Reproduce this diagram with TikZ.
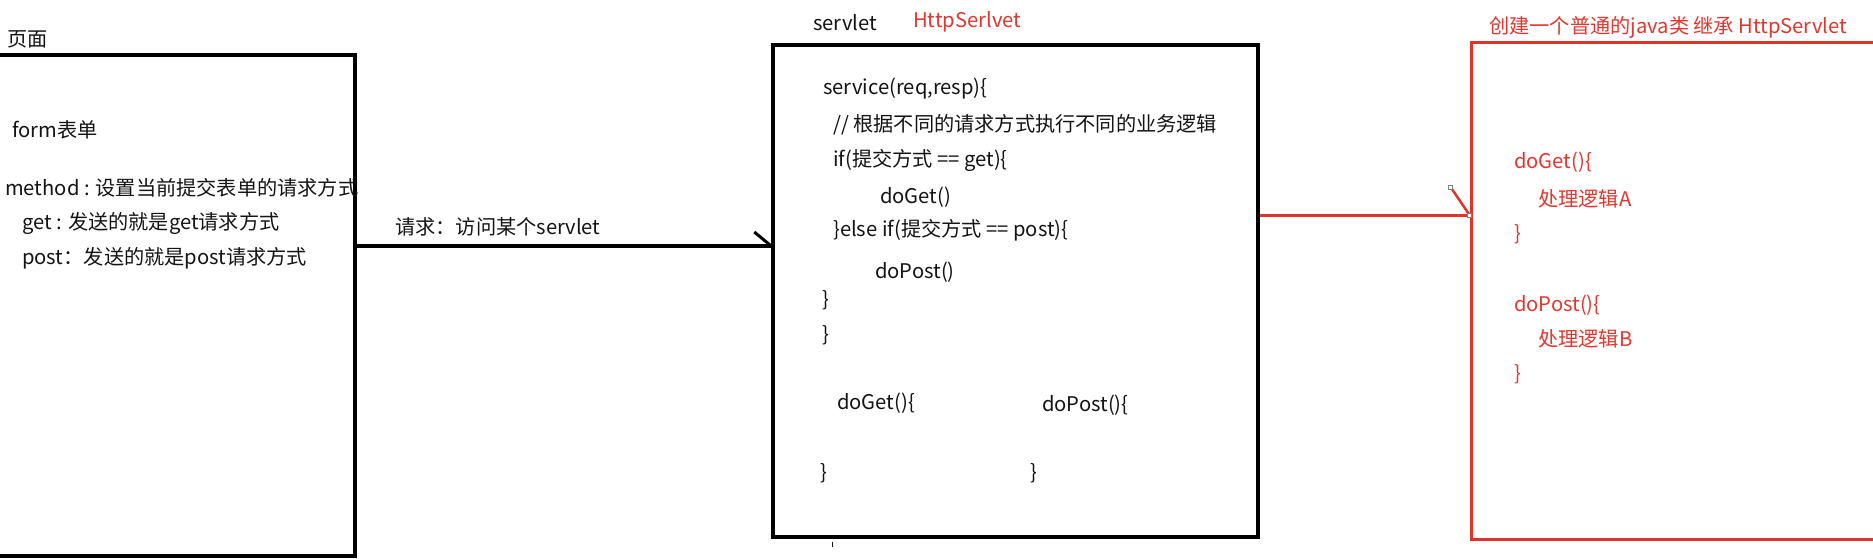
\documentclass[tikz,border=0pt]{standalone}
\usepackage{fontspec}
\setmainfont{Noto Sans CJK SC}
\definecolor{redline}{RGB}{222,52,44}
\definecolor{redtext}{RGB}{224,56,48}
\definecolor{ink}{RGB}{20,20,20}
\begin{document}
\begin{tikzpicture}[x=1pt,y=-1pt,
  txt/.style={anchor=west,inner sep=0pt,font=\fontsize{20.2}{24}\selectfont,text=ink},
  rtxt/.style={txt,text=redtext},
  blackbox/.style={draw=black,line width=3.5pt,inner sep=0pt},
  redbox/.style={draw=redline,line width=3pt,inner sep=0pt},
  handle/.style={draw=gray,fill=white,line width=0.8pt,minimum size=4pt,inner sep=0pt}]
\clip (0,0) rectangle (1873,559);
\fill[white] (0,0) rectangle (1873,559);

% boxes
\node[blackbox,minimum width=395pt,minimum height=501pt] (page) at (157.5,305.5) {};
\node[blackbox,minimum width=485pt,minimum height=492pt] (servletbox) at (1015.5,291) {};
\node[redbox,minimum width=479pt,minimum height=496pt] (impl) at (1710.5,291) {};

% left box texts
\node[txt] (tpage) at (7,39) {页面};
\node[txt] (tform) at (12,130) {form表单};
\node[txt] (tmethod) at (5,188) {method : 设置当前提交表单的请求方式};
\node[txt] (tget) at (22,223) {get : 发送的就是get请求方式};
\node[txt] (tpost) at (22,258) {post：发送的就是post请求方式};

% request label
\node[txt] (treq) at (395,227) {请求：访问某个servlet};

% middle box texts
\node[txt] (tservlet) at (813,23) {servlet};
\node[rtxt] (thttp) at (913,22) {HttpSerlvet};
\node[txt] (l1) at (823,89) {service(req,resp)\{};
\node[txt] (l2) at (833,125) {// 根据不同的请求方式执行不同的业务逻辑};
\node[txt] (l3) at (833,160) {if(提交方式 == get)\{};
\node[txt] (l4) at (880,197) {doGet()};
\node[txt] (l5) at (833,230) {\}else if(提交方式 == post)\{};
\node[txt] (l6) at (875,272) {doPost()};
\node[txt] (l7) at (822,300) {\}};
\node[txt] (l8) at (822,335) {\}};
\node[txt] (m1) at (837,403) {doGet()\{};
\node[txt] (m2) at (1042,405) {doPost()\{};
\node[txt] (m3) at (820,473) {\}};
\node[txt] (m4) at (1030,473) {\}};
\draw[ink,line width=1.2pt] (servletbox.south -| m3.east) ++(5,3) -- ++(0,5);

% red box texts
\node[rtxt] (ttitle) at (1489,27) {创建一个普通的java类 继承 HttpServlet};
\node[rtxt] (r1) at (1514,162) {doGet()\{};
\node[rtxt] (r2) at (1538,199) {处理逻辑A};
\node[rtxt] (r3) at (1514,234) {\}};
\node[rtxt] (r4) at (1514,305) {doPost()\{};
\node[rtxt] (r5) at (1538,339) {处理逻辑B};
\node[rtxt] (r6) at (1514,374) {\}};

% request connector
\coordinate (reqy) at (0,246);
\draw[black,line width=3.5pt] (page.east |- reqy) -- (servletbox.west |- reqy) coordinate (reqend);
\draw[black,line width=3pt] (reqend) -- ++(-17,-14);

% inheritance connector
\coordinate (inhy) at (0,215);
\draw[redline,line width=3pt] (servletbox.east |- inhy) -- (impl.west |- inhy) coordinate (inhend);
\draw[redline,line width=2.5pt] (inhend) -- ++(-19,-28) coordinate (inhtail);
\node[handle] (h1) at (inhend) {};
\node[handle] (h2) at (inhtail) {};
\end{tikzpicture}
\end{document}
